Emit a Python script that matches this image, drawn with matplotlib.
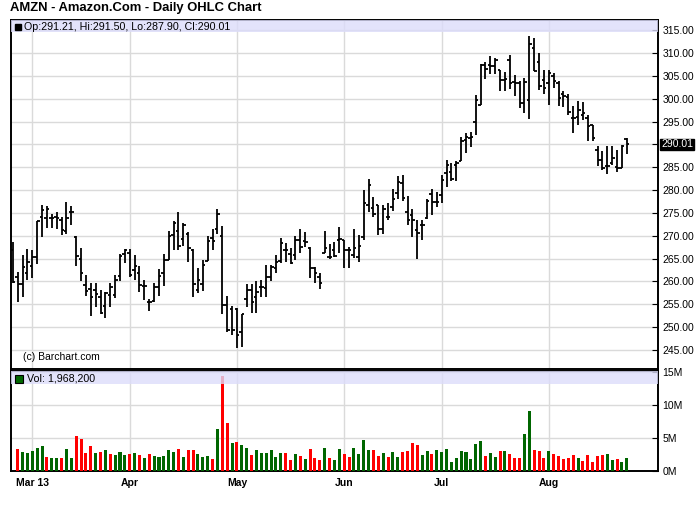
import numpy as np
import pandas as pd
import matplotlib
matplotlib.use("Agg")
import matplotlib.pyplot as plt
from matplotlib.patches import Rectangle

plt.rcParams["font.family"] = ["Liberation Sans", "DejaVu Sans"]

# ---------------------------------------------------------------------------
# Data: AMZN daily bars, 25 Feb - 23 Aug 2013
# ---------------------------------------------------------------------------
holidays = ["2013-03-29", "2013-05-27", "2013-07-04"]
dates = pd.bdate_range("2013-02-25", "2013-08-23")
dates = dates[~dates.isin(pd.to_datetime(holidays))]

opens = [266.9, 260.9, 259.5, 261.8, 263.4, 265.4, 274.1, 274.0, 273.8, 274.2,
         273.5, 271.1, 275.3, 269.7, 264.9, 259.2, 258.3, 258.1, 256.7, 254.6,
         257.0, 257.0, 261.1, 266.0, 266.3, 262.5, 261.9, 259.0, 255.6, 255.8,
         258.7, 261.8, 264.7, 270.2, 271.1, 269.2, 270.5, 266.9, 258.1, 259.5,
         264.5, 269.5, 271.6, 270.0, 254.9, 253.9, 253.9, 249.0, 256.1, 258.1,
         256.5, 258.7, 258.5, 260.9, 262.9, 264.5, 266.9, 266.0, 265.8, 269.1,
         268.8, 267.3, 263.0, 261.0, 266.3, 265.4, 266.9, 269.1, 269.1, 266.9,
         265.8, 265.4, 269.7, 276.8, 276.0, 276.8, 271.5, 274.2, 276.4, 279.3,
         281.5, 275.3, 274.6, 271.3, 272.4, 273.9, 279.2, 277.5, 279.0, 283.7,
         283.9, 285.5, 286.3, 291.0, 291.4, 295.0, 298.7, 307.4, 307.4, 307.1,
         306.2, 304.2, 308.6, 303.6, 303.5, 299.1, 299.8, 311.1, 308.0, 304.2,
         303.5, 304.9, 303.5, 301.1, 300.5, 295.8, 296.0, 296.5, 295.8, 294.2,
         288.8, 286.6, 285.2, 285.9, 285.0, 284.8, 291.21]
highs = [268.6, 262.1, 265.9, 267.1, 266.8, 273.2, 276.8, 276.5, 274.8, 275.3,
         274.2, 277.4, 276.6, 269.9, 267.3, 261.4, 259.6, 259.7, 258.1, 257.6,
         259.7, 261.4, 266.0, 267.2, 267.2, 265.8, 263.4, 260.3, 256.2, 259.6,
         262.7, 266.0, 271.1, 273.2, 275.2, 272.7, 270.9, 267.2, 262.9, 264.7,
         270.0, 271.5, 275.8, 272.2, 256.9, 254.6, 254.1, 252.9, 259.4, 259.4,
         260.0, 260.3, 263.6, 263.6, 265.8, 269.5, 268.5, 267.3, 270.0, 271.6,
         270.9, 267.5, 263.1, 261.8, 271.1, 268.2, 268.7, 271.9, 269.1, 267.5,
         271.6, 270.2, 280.0, 282.4, 278.4, 276.8, 276.8, 277.2, 280.2, 283.0,
         283.4, 278.8, 275.8, 273.4, 273.5, 278.0, 280.2, 279.7, 283.3, 286.6,
         285.9, 286.3, 291.6, 292.5, 292.8, 300.9, 307.7, 308.0, 309.4, 308.9,
         306.4, 305.8, 309.5, 305.3, 303.8, 304.6, 313.8, 313.3, 310.0, 306.4,
         306.4, 305.7, 303.8, 301.6, 301.1, 298.5, 299.5, 299.2, 296.5, 294.3,
         289.7, 288.5, 289.7, 289.7, 288.8, 289.9, 291.50]
lows = [259.7, 255.6, 256.7, 260.3, 260.8, 263.9, 269.8, 271.8, 271.8, 271.6,
        270.2, 270.3, 272.4, 263.5, 260.0, 256.9, 252.5, 254.5, 252.8, 251.9,
        254.5, 256.3, 260.0, 264.0, 260.9, 260.3, 257.6, 256.0, 253.6, 255.6,
        256.9, 259.1, 264.7, 267.0, 267.0, 267.8, 264.2, 256.5, 257.4, 258.0,
        264.5, 266.8, 270.5, 252.8, 249.0, 248.3, 245.5, 245.7, 254.5, 253.2,
        253.0, 256.7, 256.7, 260.2, 261.9, 264.0, 264.3, 263.9, 264.7, 266.3,
        267.5, 260.7, 259.6, 258.3, 266.3, 264.9, 265.4, 266.2, 262.9, 262.9,
        265.1, 264.3, 269.1, 275.3, 274.2, 270.2, 270.4, 273.4, 275.5, 278.0,
        277.7, 272.4, 269.7, 264.9, 269.0, 273.7, 274.5, 276.3, 277.2, 280.7,
        281.9, 281.9, 286.3, 288.1, 289.4, 292.0, 298.7, 304.3, 305.5, 305.5,
        301.8, 301.8, 302.2, 300.7, 298.0, 296.9, 295.6, 306.0, 301.9, 301.1,
        298.7, 302.4, 298.4, 298.2, 296.5, 292.5, 294.3, 295.4, 290.7, 290.7,
        285.2, 284.5, 283.5, 285.5, 283.9, 284.8, 287.90]
closes = [259.9, 259.5, 263.1, 264.2, 265.4, 273.2, 275.7, 275.8, 274.0, 274.0,
          271.3, 274.0, 275.2, 265.6, 261.8, 258.0, 256.5, 257.2, 253.2, 257.4,
          258.8, 260.3, 265.6, 266.8, 261.5, 263.4, 259.2, 259.0, 255.4, 258.9,
          261.2, 264.7, 270.0, 272.9, 267.8, 272.4, 267.3, 259.5, 260.3, 263.6,
          268.9, 268.9, 274.8, 254.9, 249.4, 249.4, 248.3, 252.9, 258.1, 255.6,
          257.6, 258.7, 260.9, 263.1, 264.3, 268.5, 266.8, 264.0, 269.1, 267.5,
          268.7, 262.9, 261.8, 259.7, 267.3, 265.4, 265.6, 269.2, 266.9, 267.0,
          267.3, 267.8, 277.1, 281.1, 274.8, 271.6, 275.8, 274.2, 278.0, 281.7,
          278.2, 273.5, 273.5, 270.7, 272.4, 277.7, 277.5, 277.5, 282.3, 285.5,
          282.4, 285.9, 290.7, 291.6, 291.6, 299.8, 307.4, 306.5, 307.1, 308.5,
          304.2, 304.3, 303.5, 303.5, 299.1, 303.6, 312.1, 306.0, 302.7, 302.4,
          305.7, 303.8, 300.2, 300.7, 297.0, 295.8, 297.6, 296.8, 294.1, 291.4,
          286.6, 284.8, 285.3, 287.0, 284.8, 289.7, 290.01]

# volume in millions of shares (first day not shown on the reference)
volume = [np.nan, 3.37, 2.9, 2.75, 3.06, 3.5, 3.8, 2.1, 2.0, 2.0,
          2.0, 3.37, 2.0, 5.36, 4.9, 2.75, 3.8, 2.75, 2.9, 3.2,
          2.6, 2.45, 2.9, 2.45, 2.6, 2.75, 2.45, 2.0, 2.6, 2.3,
          2.15, 2.3, 3.2, 2.9, 3.37, 2.15, 3.2, 3.2, 2.6, 2.15,
          2.3, 1.84, 6.28, 14.4, 7.2, 4.3, 4.44, 4.0, 3.5, 2.45,
          3.2, 2.75, 2.75, 3.2, 2.15, 2.75, 2.75, 1.7, 2.6, 2.3,
          1.84, 3.37, 2.0, 1.7, 3.5, 2.0, 1.7, 3.37, 2.6, 2.15,
          3.5, 2.6, 4.75, 3.2, 3.2, 2.3, 2.75, 2.15, 2.9, 2.15,
          2.9, 3.06, 4.3, 4.0, 2.45, 3.06, 2.6, 3.2, 2.9, 3.37,
          1.38, 2.0, 3.06, 2.9, 1.84, 4.13, 4.6, 2.3, 2.75, 2.15,
          3.06, 3.06, 2.6, 2.0, 2.0, 5.66, 9.03, 3.2, 3.06, 2.0,
          3.06, 2.6, 2.3, 1.84, 2.0, 2.45, 2.0, 1.53, 2.45, 1.38,
          2.3, 2.45, 2.6, 1.7, 1.84, 1.38, 1.9682]
# 1 = up day (green volume bar), 0 = down day (red)
vol_up = [1, 0, 1, 1, 1, 1, 1, 0, 1, 1, 0, 1, 1, 0, 0, 0, 0, 1, 0, 1,
          0, 1, 1, 1, 0, 1, 0, 1, 0, 1, 1, 1, 1, 1, 0, 1, 0, 0, 1, 1,
          1, 0, 1, 0, 0, 1, 0, 1, 1, 0, 1, 1, 1, 1, 1, 1, 0, 0, 1, 0,
          1, 0, 0, 0, 1, 0, 1, 1, 0, 0, 1, 1, 1, 1, 0, 0, 1, 0, 1, 1,
          0, 0, 0, 0, 1, 1, 0, 1, 1, 1, 1, 1, 1, 1, 1, 1, 1, 0, 1, 1,
          0, 1, 0, 0, 0, 1, 1, 0, 0, 0, 1, 0, 0, 0, 0, 0, 1, 0, 0, 0,
          0, 0, 1, 1, 0, 1, 1]

price_ticks = list(range(245, 316, 5))
vol_ticks = [0, 5, 10, 15]

# ---------------------------------------------------------------------------
# Layout helpers (pixel boxes on a 700x512 canvas)
# ---------------------------------------------------------------------------
W, H = 700, 512
fig = plt.figure(figsize=(W / 100, H / 100), dpi=100)


def box(left, top, right, bottom):
    return [left / W, 1 - bottom / H, (right - left) / W, (bottom - top) / H]


ax = fig.add_axes(box(10.7, 20, 658, 369))
axv = fig.add_axes(box(10.7, 370.5, 658, 471), sharex=ax)

idx = np.arange(len(dates))
month_first = [np.flatnonzero(dates.month == m)[0] for m in sorted(set(dates.month)) if m > 2]
month_labels = [dates[i].strftime("%b") for i in month_first]
month_labels[0] = month_labels[0] + " " + dates[month_first[0]].strftime("%y")

grid_c = "#dadada"
band_c = "#dcdcfa"

# ---- price panel ----
ax.vlines(idx, lows, highs, color="black", lw=1.3)
ax.hlines(opens, idx - 0.5, idx, color="black", lw=1.3)
ax.hlines(closes, idx, idx + 0.5, color="black", lw=1.3)

ax.set_xlim(-0.43, 132.4)
ax.set_ylim(240.84, 317.25)
ax.set_yticks(price_ticks)
ax.set_yticklabels([f"{t:.2f}" for t in price_ticks])
ax.yaxis.tick_right()
ax.tick_params(axis="y", direction="in", length=4, width=0.8, pad=3, labelsize=7.5)
ax.tick_params(axis="x", length=0, labelbottom=False)
ax.set_xticks(month_first)
ax.grid(True, color=grid_c, lw=1.0)
ax.set_axisbelow(True)
for s in ["left", "top", "right", "bottom"]:
    ax.spines[s].set_linewidth(1.4)

ax.add_patch(Rectangle((0, 1 - 12 / 349), 1, 12 / 349, transform=ax.transAxes,
                       color=band_c, alpha=0.8, zorder=4, lw=0))
ax.plot([7.6 / 647.3], [1 - 7 / 349], transform=ax.transAxes, marker="s", ms=4,
        color="black", clip_on=False, zorder=5)
ax.text(13 / 647.3, 1 - 7 / 349,
        f"Op:{opens[-1]:.2f}, Hi:{highs[-1]:.2f}, Lo:{lows[-1]:.2f}, Cl:{closes[-1]:.2f}",
        transform=ax.transAxes, fontsize=7.7, va="center", ha="left", zorder=5)
ax.text(12 / 647.3, 12 / 349, "(c) Barchart.com", transform=ax.transAxes,
        fontsize=7.5, va="center", ha="left")
ax.text(1.0 + 3 / 647.3, closes[-1], f"{closes[-1]:.2f}",
        transform=ax.get_yaxis_transform(), fontsize=7.5, color="white",
        va="center", ha="left", zorder=6, clip_on=False,
        bbox=dict(boxstyle="square,pad=0.08", fc="black", ec="black"))

# ---- volume panel ----
bar_cols = ["#006600" if u else "#ff0000" for u in vol_up]
axv.bar(idx, volume, width=0.62, color=bar_cols, zorder=3)
axv.set_ylim(0, 15.18)
axv.set_yticks(vol_ticks)
axv.set_yticklabels([f"{t}M" for t in vol_ticks])
axv.yaxis.tick_right()
axv.tick_params(axis="y", direction="in", length=4, width=0.8, pad=3, labelsize=7.5)
axv.set_xticks(month_first)
axv.set_xticklabels(month_labels, fontweight="bold", fontsize=7.5)
axv.tick_params(axis="x", length=0, pad=5)
axv.grid(True, color=grid_c, lw=1.0)
axv.set_axisbelow(True)
for s in ["left", "top", "right", "bottom"]:
    axv.spines[s].set_linewidth(1.4)

axv.add_patch(Rectangle((0, 1 - 13.5 / 100.5), 1, 13.5 / 100.5, transform=axv.transAxes,
                        color=band_c, alpha=0.8, zorder=4, lw=0))
axv.plot([8 / 647.3], [1 - 8 / 100.5], transform=axv.transAxes, marker="s", ms=5.5,
         mfc="#006600", mec="black", mew=0.8, clip_on=False, zorder=5)
axv.text(16.5 / 647.3, 1 - 8 / 100.5, f"Vol: {volume[-1] * 1e6:,.0f}",
         transform=axv.transAxes, fontsize=7.7, va="center", ha="left", zorder=5)

fig.text(10 / W, 1 - 8.5 / H, "AMZN - Amazon.Com - Daily OHLC Chart",
         fontsize=9.4, fontweight="bold", va="center", ha="left")

fig.savefig("out.png", dpi=100)
